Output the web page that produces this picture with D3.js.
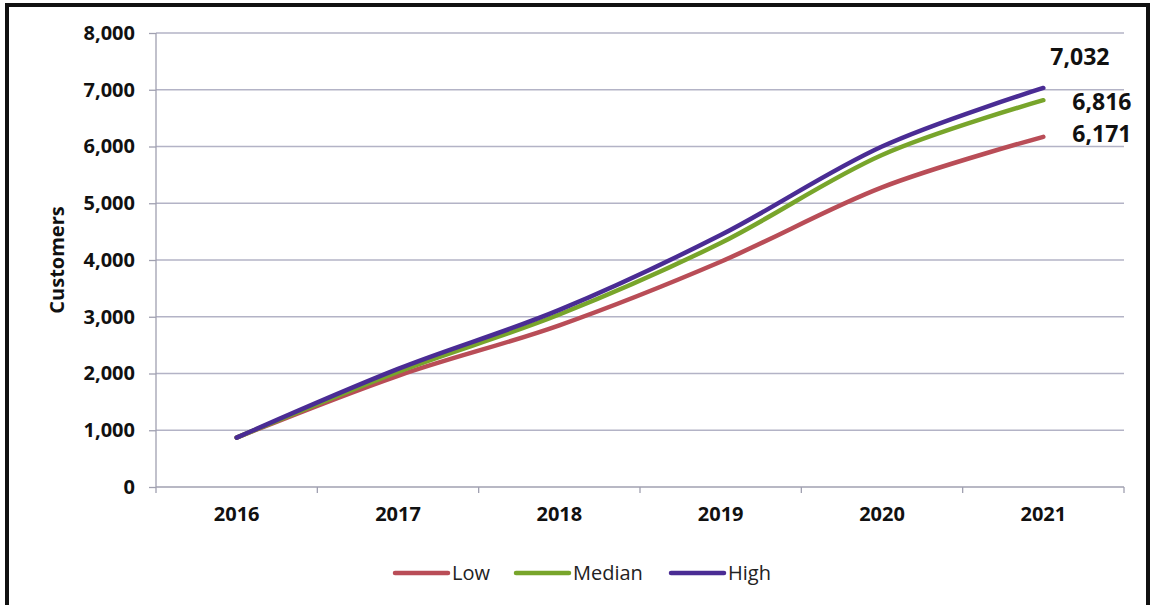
<!DOCTYPE html>
<html>
<head>
<meta charset="utf-8">
<script src="https://cdn.jsdelivr.net/npm/d3@7/dist/d3.min.js"></script>
<style>
  body { margin: 0; background: #fff; }
  svg { display: block; font-family: "Open Sans", "Noto Sans", sans-serif; }
</style>
</head>
<body>
<svg id="chart" width="1152" height="605"></svg>
<script>
///// *** DATA *** /////
var years = ['2016', '2017', '2018', '2019', '2020', '2021'],
    lowValues = [870, 1960, 2850, 3970, 5280, 6171],
    medianValues = [870, 2030, 3040, 4300, 5850, 6816],
    highValues = [870, 2080, 3120, 4440, 6000, 7032],
    yTicks = [0, 1000, 2000, 3000, 4000, 5000, 6000, 7000, 8000],
    seriesNames = ['Low', 'Median', 'High'],
    seriesColors = ['#b94d57', '#78a52b', '#4a2c94'];

var series = [
  {name: seriesNames[0], values: lowValues, color: seriesColors[0]},
  {name: seriesNames[1], values: medianValues, color: seriesColors[1]},
  {name: seriesNames[2], values: highValues, color: seriesColors[2]}
];

///// *** LAYOUT *** /////
var svg = d3.select('#chart'),
    plotLeft = 156, plotRight = 1124, plotTop = 33, plotBottom = 487;

var x = d3.scaleBand().domain(years).range([plotLeft, plotRight]);
var y = d3.scaleLinear().domain([0, 8000]).range([plotBottom, plotTop]);

//frame around the chart
svg.append('rect')
  .attr('x', 7).attr('y', 5)
  .attr('width', 1141).attr('height', 640)
  .attr('fill', 'none')
  .attr('stroke', '#111')
  .attr('stroke-width', 4);

//gridlines
svg.append('g')
  .selectAll('line')
  .data(yTicks.filter(function(d) { return d > 0; }))
  .enter().append('line')
  .attr('x1', plotLeft).attr('x2', plotRight)
  .attr('y1', function(d) { return y(d); })
  .attr('y2', function(d) { return y(d); })
  .attr('stroke', '#b3b3c6')
  .attr('stroke-width', 1.3);

//y axis
var yAxis = svg.append('g')
  .attr('transform', 'translate(' + plotLeft + ',0)')
  .call(d3.axisLeft(y).tickValues(yTicks).tickSize(7).tickPadding(14)
    .tickFormat(d3.format(',')));
yAxis.selectAll('line, path').attr('stroke', '#a0a0b0').attr('stroke-width', 1.3);
yAxis.select('.domain').attr('d', 'M0,' + plotBottom + 'V' + plotTop);
yAxis.selectAll('text')
  .attr('font-size', 20).attr('font-weight', 700).attr('fill', '#111')
  .attr('font-family', '"Open Sans", sans-serif');

//x axis with ticks between categories
var xAxis = svg.append('g')
  .attr('transform', 'translate(0,' + plotBottom + ')')
  .call(d3.axisBottom(x).tickSize(0).tickPadding(20));
xAxis.select('.domain').attr('d', 'M' + plotLeft + ',0H' + plotRight).attr('stroke', '#a0a0b0').attr('stroke-width', 1.3);
xAxis.selectAll('text')
  .attr('font-size', 20).attr('font-weight', 700).attr('fill', '#111')
  .attr('font-family', '"Open Sans", sans-serif');
xAxis.selectAll('.sep')
  .data(d3.range(years.length + 1))
  .enter().append('line')
  .attr('x1', function(i) { return plotLeft + i * x.step(); })
  .attr('x2', function(i) { return plotLeft + i * x.step(); })
  .attr('y1', 0).attr('y2', 6)
  .attr('stroke', '#a0a0b0').attr('stroke-width', 1.3);

//y axis title
svg.append('text')
  .attr('transform', 'translate(64,260) rotate(-90)')
  .attr('text-anchor', 'middle')
  .attr('font-size', 20).attr('font-weight', 700).attr('fill', '#111')
  .text('Customers');

///// *** LINES *** /////
var line = d3.line()
  .x(function(d, i) { return x(years[i]) + x.bandwidth() / 2; })
  .y(function(d) { return y(d); })
  .curve(d3.curveCatmullRom.alpha(0));

svg.append('g')
  .selectAll('path')
  .data(series)
  .enter().append('path')
  .attr('d', function(s) { return line(s.values); })
  .attr('fill', 'none')
  .attr('stroke', function(s) { return s.color; })
  .attr('stroke-width', 4.5)
  .attr('stroke-linecap', 'round');

//end labels
var lastX = x(years[years.length - 1]) + x.bandwidth() / 2;
var labelOffsets = [[29, -3], [29, 2], [7, -31]];
svg.append('g')
  .selectAll('text')
  .data(series)
  .enter().append('text')
  .attr('x', function(s, i) { return lastX + labelOffsets[i][0]; })
  .attr('y', function(s, i) { return y(s.values[s.values.length - 1]) + labelOffsets[i][1]; })
  .attr('dy', '0.35em')
  .attr('font-size', 23).attr('font-weight', 700).attr('fill', '#111')
  .text(function(s) { return d3.format(',')(s.values[s.values.length - 1]); });

///// *** LEGEND *** /////
var legendX = [395, 516, 671];
var legend = svg.append('g')
  .selectAll('g')
  .data(series)
  .enter().append('g')
  .attr('transform', function(s, i) { return 'translate(' + legendX[i] + ',573)'; });
legend.append('line')
  .attr('x1', 0).attr('x2', 53)
  .attr('stroke', function(s) { return s.color; })
  .attr('stroke-width', 4.5)
  .attr('stroke-linecap', 'round');
legend.append('text')
  .attr('x', 57)
  .attr('dy', '0.35em')
  .attr('font-size', 20).attr('fill', '#222')
  .text(function(s) { return s.name; });
</script>
</body>
</html>
